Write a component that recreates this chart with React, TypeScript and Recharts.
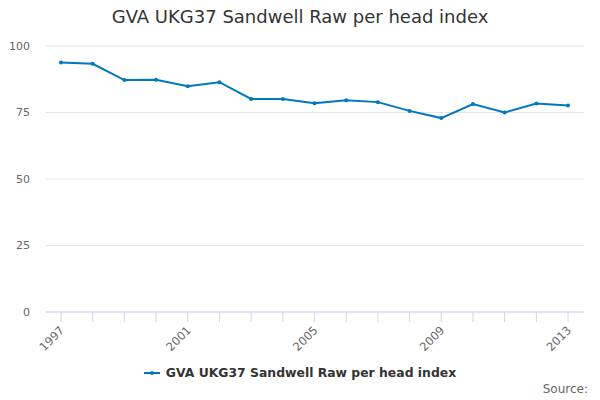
import { LineChart, Line, XAxis, YAxis, CartesianGrid } from "recharts"

const years = [
  "1997", "1998", "1999", "2000", "2001", "2002", "2003", "2004", "2005",
  "2006", "2007", "2008", "2009", "2010", "2011", "2012", "2013",
]
const rawIndex = [
  93.8, 93.3, 87.2, 87.3, 84.9, 86.4, 80.1, 80.1, 78.5,
  79.6, 78.9, 75.6, 72.9, 78.2, 75.0, 78.4, 77.6,
]
const yTicks = [0, 25, 50, 75, 100]

const title = "GVA UKG37 Sandwell Raw per head index"
const seriesName = "GVA UKG37 Sandwell Raw per head index"

const data = years.map((year, i) => ({ year, value: rawIndex[i] }))

const font = "'DejaVu Sans', sans-serif"
const blue = "#0077be"

// only every 4th year gets a label, but every year keeps its tick mark
const YearTick = (props: any) => {
  const { x, y, payload, index } = props
  if (index % 4 !== 0) return null
  const tx = x + 4
  const ty = y + 7
  return (
    <text
      x={tx}
      y={ty}
      textAnchor="end"
      fontSize={11.5}
      fill="#666"
      fontFamily={font}
      transform={`rotate(-45, ${tx}, ${ty})`}
    >
      {payload.value}
    </text>
  )
}

export default function App() {
  return (
    <div style={{ position: "absolute", left: 0, top: 0, width: 600, height: 400, background: "#fff", fontFamily: font }}>
      <div style={{ position: "absolute", top: 6, width: 600, textAlign: "center", fontSize: 18, color: "#333" }}>
        {title}
      </div>

      <LineChart width={600} height={400} data={data} margin={{ top: 46, right: 16, bottom: 38, left: 8 }}>
        <CartesianGrid vertical={false} stroke="#e6e6e6" />
        <XAxis
          dataKey="year"
          interval={0}
          padding={{ left: 15, right: 16 }}
          axisLine={{ stroke: "#ccd6eb" }}
          tickLine={{ stroke: "#ccd6eb" }}
          tickSize={10}
          height={50}
          tick={<YearTick />}
        />
        <YAxis
          domain={[0, 100]}
          ticks={yTicks}
          axisLine={false}
          tickLine={false}
          tickSize={0}
          tickMargin={16}
          width={38}
          tick={{ fontSize: 11, fill: "#666", fontFamily: font }}
        />
        <Line
          type="linear"
          dataKey="value"
          stroke={blue}
          strokeWidth={2}
          dot={{ r: 2, fill: blue, stroke: blue, strokeWidth: 0 }}
          isAnimationActive={false}
          name={seriesName}
        />
      </LineChart>

      <div style={{ position: "absolute", top: 365, width: 600, display: "flex", justifyContent: "center", alignItems: "center" }}>
        <svg width={16} height={10} style={{ marginRight: 6 }}>
          <line x1={0} y1={5} x2={16} y2={5} stroke={blue} strokeWidth={2} />
          <circle cx={8} cy={5} r={2} fill={blue} />
        </svg>
        <span style={{ fontSize: 12.4, fontWeight: "bold", color: "#333" }}>{seriesName}</span>
      </div>

      <div style={{ position: "absolute", top: 382, right: 12, fontSize: 12, color: "#666" }}>Source:</div>
    </div>
  )
}
